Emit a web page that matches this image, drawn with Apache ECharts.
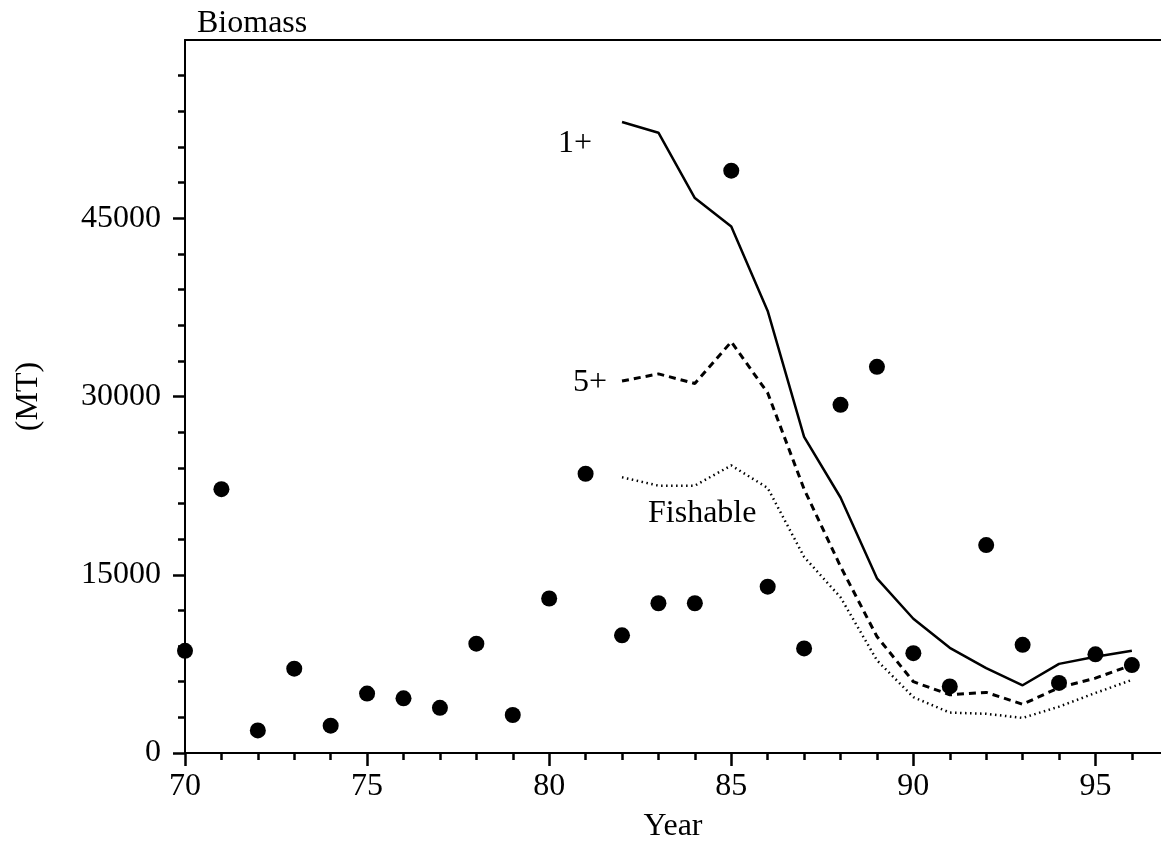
<!DOCTYPE html>
<html>
<head>
<meta charset="utf-8">
<script src="https://cdn.jsdelivr.net/npm/echarts@6/dist/echarts.min.js"></script>
<style>html,body{margin:0;padding:0;background:#fff}#c{width:1161px;height:850px}</style>
</head>
<body>
<div id="c"></div>
<script>
// Observed biomass points, years 70..96
const obsYears = [70,71,72,73,74,75,76,77,78,79,80,81,82,83,84,85,86,87,88,89,90,91,92,93,94,95,96];
const obsValues = [8600,22200,1900,7100,2300,5000,4600,3800,9200,3200,13000,23500,9900,12600,12600,49000,14000,8800,29300,32500,8400,5600,17500,9100,5900,8300,7400];
// Model lines, years 82..96
const lineYears = [82,83,84,85,86,87,88,89,90,91,92,93,94,95,96];
const onePlus = [53100,52200,46700,44300,37200,26600,21500,14700,11300,8850,7150,5700,7500,8100,8600];
const fivePlus = [31300,31900,31100,34600,30300,22200,15700,9800,6000,4900,5100,4100,5500,6300,7400];
const fishable = [23200,22500,22500,24200,22300,16500,13100,7800,4700,3400,3300,2950,3900,5050,6150];
// Ticks
const xMajorTicks = [70,75,80,85,90,95];
const xMinorTicks = [70,71,72,73,74,75,76,77,78,79,80,81,82,83,84,85,86,87,88,89,90,91,92,93,94,95,96];
const yMajorTicks = [0,15000,30000,45000];
const yMinorTicks = [0,3000,6000,9000,12000,15000,18000,21000,24000,27000,30000,33000,36000,39000,42000,45000,48000,51000,54000,57000];

const FONT = 'Liberation Serif';
const FS = 32;
const chart = echarts.init(document.getElementById('c'), null, {renderer: 'canvas'});

function pairs(xs, ys, firstLabel) {
  return xs.map((x, i) => {
    const item = {value: [x, ys[i]]};
    if (i === 0 && firstLabel) item.label = firstLabel;
    return item;
  });
}
const lblBase = {show: true, color: '#000', fontFamily: FONT, fontSize: FS};

const xCommon = {type: 'value', min: 70, max: 96.8, splitLine: {show: false}};
const yCommon = {type: 'value', min: 0, max: 60000, splitLine: {show: false}};

chart.setOption({
  animation: false,
  backgroundColor: '#fff',
  title: {text: 'Biomass', left: 192, top: 3, textStyle: {fontFamily: FONT, fontSize: FS, fontWeight: 'normal', color: '#000'}},
  grid: {left: 185, right: 0, top: 40, bottom: 97, outerBoundsMode: 'none', containLabel: false},
  xAxis: [
    Object.assign({}, xCommon, {
      position: 'bottom',
      name: 'Year', nameLocation: 'middle', nameGap: 58,
      nameTextStyle: {fontFamily: FONT, fontSize: FS, color: '#000'},
      axisLine: {show: true, lineStyle: {color: '#000', width: 2}},
      axisTick: {show: true, length: 13, lineStyle: {color: '#000', width: 2.5}, customValues: xMajorTicks},
      axisLabel: {show: true, margin: 18, color: '#000', fontFamily: FONT, fontSize: FS, customValues: xMajorTicks, formatter: v => String(v)}
    }),
    Object.assign({}, xCommon, {
      position: 'bottom',
      axisLine: {show: false},
      axisTick: {show: true, length: 7, lineStyle: {color: '#000', width: 2.5}, customValues: xMinorTicks},
      axisLabel: {show: false}
    }),
    Object.assign({}, xCommon, {
      position: 'top',
      axisLine: {show: true, lineStyle: {color: '#000', width: 2}},
      axisTick: {show: false},
      axisLabel: {show: false}
    })
  ],
  yAxis: [
    Object.assign({}, yCommon, {
      position: 'left',
      name: '(MT)', nameLocation: 'middle', nameGap: 140, nameRotate: 90,
      nameTextStyle: {fontFamily: FONT, fontSize: FS, color: '#000'},
      axisLine: {show: true, lineStyle: {color: '#000', width: 2}},
      axisTick: {show: true, length: 12, lineStyle: {color: '#000', width: 2.5}, customValues: yMajorTicks},
      axisLabel: {show: true, margin: 24, color: '#000', fontFamily: FONT, fontSize: FS, customValues: yMajorTicks, formatter: v => String(v)}
    }),
    Object.assign({}, yCommon, {
      position: 'left',
      axisLine: {show: false},
      axisTick: {show: true, length: 7, lineStyle: {color: '#000', width: 2.5}, customValues: yMinorTicks},
      axisLabel: {show: false}
    })
  ],
  series: [
    {
      type: 'line', name: '1+', xAxisIndex: 0, yAxisIndex: 0,
      data: pairs(lineYears, onePlus, Object.assign({}, lblBase, {formatter: '1+', position: 'left', distance: 30, offset: [0, 22]})),
      showSymbol: true, symbol: 'circle', symbolSize: 0,
      itemStyle: {color: '#000'},
      lineStyle: {color: '#000', width: 2.5, type: 'solid'}
    },
    {
      type: 'line', name: '5+', xAxisIndex: 0, yAxisIndex: 0,
      data: pairs(lineYears, fivePlus, Object.assign({}, lblBase, {formatter: '5+', position: 'left', distance: 15, offset: [0, 2]})),
      showSymbol: true, symbol: 'circle', symbolSize: 0,
      itemStyle: {color: '#000'},
      lineStyle: {color: '#000', width: 3, type: [7, 5]}
    },
    {
      type: 'line', name: 'Fishable', xAxisIndex: 0, yAxisIndex: 0,
      data: pairs(lineYears, fishable, Object.assign({}, lblBase, {formatter: 'Fishable', position: 'right', distance: 26, offset: [0, 36]})),
      showSymbol: true, symbol: 'circle', symbolSize: 0,
      itemStyle: {color: '#000'},
      lineStyle: {color: '#000', width: 2.5, type: [1.5, 3.5]}
    },
    {
      type: 'scatter', name: 'Observed', xAxisIndex: 0, yAxisIndex: 0,
      data: obsYears.map((x, i) => [x, obsValues[i]]),
      symbol: 'circle', symbolSize: 16,
      itemStyle: {color: '#000', opacity: 1}
    }
  ]
});
</script>
</body>
</html>
